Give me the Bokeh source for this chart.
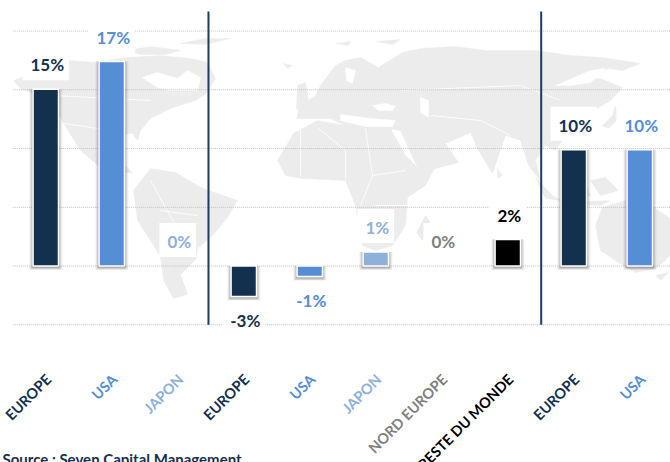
from bokeh.plotting import figure
from bokeh.models import Range1d, Label
from bokeh.core.properties import value
from bokeh.embed import file_html
from bokeh.resources import INLINE

categories = ["EUROPE", "USA", "JAPON", "EUROPE", "USA", "JAPON", "NORD EUROPE", "RESTE DU MONDE", "EUROPE", "USA"]
values = [15.05, 17.4, 0, -2.6, -0.9, 1.2, 0, 2.25, 9.9, 9.9]
labels = ["15%", "17%", "0%", "-3%", "-1%", "1%", "0%", "2%", "10%", "10%"]
colors = ["#14304F", "#558ED5", "#8FB0DB", "#14304F", "#558ED5", "#8FB0DB", "#7F7F7F", "#000000", "#14304F", "#558ED5"]
grid_values = [-5, 0, 5, 10, 15, 20]
group_breaks = [2.465, 7.506]
source_text = "Source : Seven Capital Management"

# background world map outline, in its own 670x462 map space
land = [
    # north america
    [(13,80),(40,70),(68,60),(95,62),(125,57),(160,55),(190,58),(207,62),(215,78),(206,93),(195,100),(170,108),(150,118),(140,130),(137,140),(132,133),(125,133),(112,130),(106,143),(112,155),(125,153),(122,163),(132,172),(124,172),(100,167),(80,150),(63,123),(52,100),(20,88)],
    [(128,50),(150,46),(180,50),(165,54),(140,54)],
    [(180,43),(205,38),(230,38),(205,44)],
    # south america
    [(133,190),(150,168),(175,172),(200,187),(237,200),(227,217),(213,234),(197,248),(196,258),(180,274),(187,294),(173,298),(163,280),(160,256),(137,220)],
    # eurasia
    [(335,65),(345,60),(360,57),(378,67),(402,52),(420,48),(455,46),(485,50),(535,50),(570,55),(602,57),(640,63),(622,70),(608,68),(590,75),(575,82),(600,78),(622,87),(610,100),(590,112),(585,125),(565,135),(555,150),(545,145),(535,160),(540,180),(528,165),(520,140),(505,135),(492,173),(478,150),(470,132),(445,143),(458,162),(420,172),(415,163),(400,130),(385,128),(350,128),(330,118),(296,118),(300,105),(315,95),(320,85)],
    [(335,43),(350,41),(348,45)],
    [(375,41),(400,39),(392,44)],
    [(283,63),(292,65),(287,68)],
    [(297,85),(305,82),(308,100),(300,112),(296,108)],
    # africa
    [(277,160),(293,133),(317,120),(345,125),(390,128),(405,155),(418,168),(438,160),(425,185),(407,197),(405,225),(392,245),(375,250),(362,245),(355,205),(345,180),(300,178),(285,175)],
    [(425,215),(430,222),(422,240),(416,232)],
    # japan and islands
    [(602,125),(612,115),(615,105),(618,118),(608,128)],
    [(497,168),(502,175),(497,178)],
    [(535,177),(552,195),(560,200),(545,198)],
    [(565,190),(585,183),(590,195),(570,200)],
    [(590,180),(605,177),(618,190),(600,195)],
    [(560,202),(600,205),(610,200)],
    # australia
    [(602,207),(625,200),(640,203),(650,205),(670,218),(670,255),(655,268),(635,272),(618,262),(600,250),(595,225)],
    [(655,275),(668,272),(660,280)],
]
seas = [
    [(372,105),(385,103),(395,106),(392,110),(378,110)],
    [(420,97),(428,100),(428,117),(420,112)],
    [(340,114),(370,118),(395,120),(392,126),(365,126),(340,120)],
    [(345,67),(355,70),(352,83),(346,80)],
    [(142,77),(157,72),(177,78),(187,70),(200,77),(197,90),(167,90),(157,87)],
    [(555,85),(590,70),(605,68),(590,82),(570,85)],
]
borders = [
    [(300,120),(300,175)], [(318,128),(345,150),(345,178)], [(365,128),(372,175),(360,205)],
    [(372,175),(405,170)], [(375,205),(407,205)], [(150,180),(175,225),(190,230)], [(160,210),(197,215)],
    [(63,123),(112,130)], [(52,95),(150,100)], [(400,90),(520,85),(560,100)], [(430,115),(480,120),(510,135)],
]

ink = "#1F3A63"
grid_ink = "#BFBFBF"
land_ink = "#ECECEC"
font = value("Lato")

p = figure(width=670, height=462, toolbar_location=None, output_backend="svg",
           x_range=Range1d(-0.686, 9.465), y_range=Range1d(-16.72, 22.6),
           min_border=0, min_border_left=0, min_border_right=0, min_border_top=0, min_border_bottom=0,
           outline_line_color=None, background_fill_color="white", border_fill_color="white")
p.axis.visible = False
p.grid.visible = False
p.styles = {"position": "absolute", "left": "0px", "top": "0px"}
p.extra_x_ranges = {"map": Range1d(0, 670)}
p.extra_y_ranges = {"map": Range1d(462, 0)}

mx = dict(x_range_name="map", y_range_name="map")
p.patches([[q[0] for q in s] for s in land], [[q[1] for q in s] for s in land],
          fill_color=land_ink, line_color=land_ink, line_width=0.5, **mx)
p.patches([[q[0] for q in s] for s in seas], [[q[1] for q in s] for s in seas],
          fill_color="white", line_color="white", line_width=0.5, **mx)
p.multi_line([[q[0] for q in s] for s in borders], [[q[1] for q in s] for s in borders],
             line_color="white", line_width=0.8, **mx)

xs = list(range(len(values)))
p.segment([-0.5]*len(grid_values), grid_values, [9.465]*len(grid_values), grid_values,
          line_color=grid_ink, line_width=1, line_dash="1 1")
p.segment(group_breaks, [-5]*2, group_breaks, [21.66]*2, line_color=ink, line_width=2)

py = 1 / 11.75
px = 1 / 66
w = 0.385
solid = [i for i, v in enumerate(values) if v != 0]

for grow, shift, alpha in [(4, 4, 0.06), (3, 3.5, 0.10), (2, 3, 0.14), (1, 2, 0.2)]:
    p.quad(left=[xs[i] - w/2 - grow*px for i in solid], right=[xs[i] + w/2 + grow*px for i in solid],
           top=[max(values[i], 0) for i in solid],
           bottom=[min(values[i], 0) - shift*py for i in solid],
           fill_color="#404040", fill_alpha=alpha, line_color=None)

p.quad(left=[xs[i] - w/2 for i in solid], right=[xs[i] + w/2 for i in solid],
       top=[max(values[i], 0) for i in solid], bottom=[min(values[i], 0) for i in solid],
       fill_color=[colors[i] for i in solid], line_color="white", line_width=1.5)

for i, (v, lab) in enumerate(zip(values, labels)):
    off = 22 if v < 0 else -26
    p.text([xs[i]], [v], text=[lab], text_color=colors[i], text_font=font, text_font_style="bold",
           text_font_size="17px", text_align="center", text_baseline="middle", y_offset=off,
           background_fill_color="white", padding=[8, 5, 8, 5])

for i, cat in enumerate(categories):
    p.text([xs[i] + 0.04], [-9.42], text=[cat], text_color=colors[i], text_font=font, text_font_style="bold",
           text_font_size="14.5px", text_align="right", text_baseline="middle", angle=45, angle_units="deg")

p.add_layout(Label(x=2, y=-5, x_units="screen", y_units="screen", text=source_text, text_font="Lato",
                   text_font_style="bold", text_font_size="15px", text_color="#14304F"))

open("out.html", "w").write(file_html(p, INLINE))
